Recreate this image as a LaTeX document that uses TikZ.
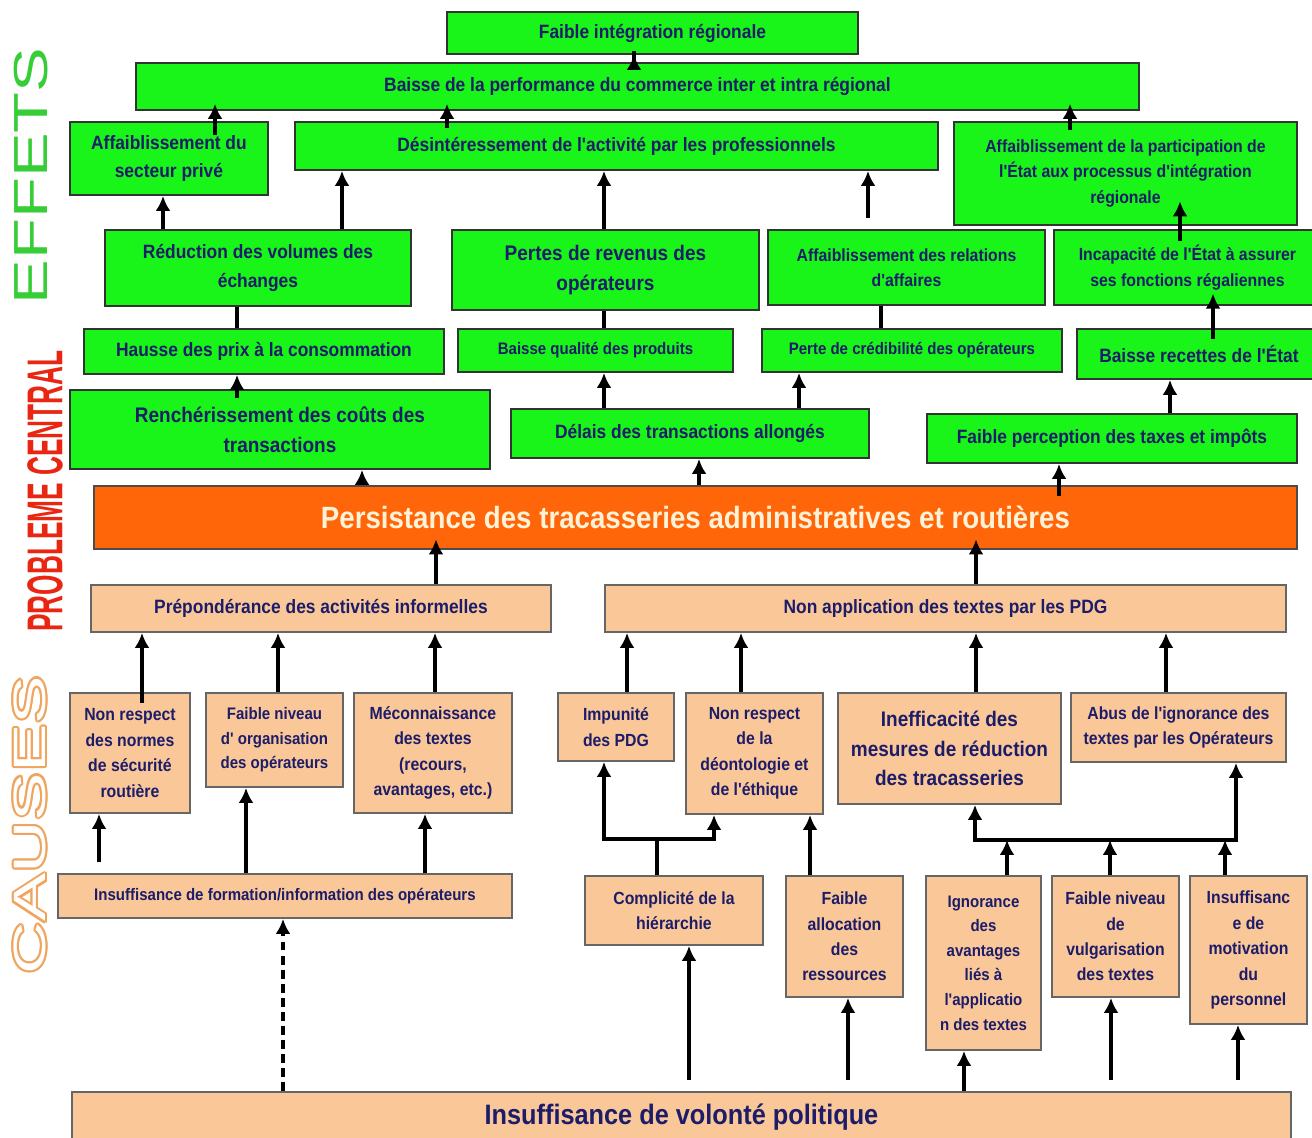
\documentclass[tikz,border=0pt]{standalone}
\usepackage{fontspec}
\setmainfont{Liberation Sans}
\newfontfamily\boxfont[FakeStretch=0.9]{Liberation Sans}
\usetikzlibrary{arrows.meta}
\definecolor{effgreen}{RGB}{25,245,25}
\definecolor{caustan}{RGB}{250,200,152}
\definecolor{probor}{RGB}{255,102,10}
\definecolor{navytxt}{RGB}{28,28,105}
\definecolor{creamtxt}{RGB}{255,242,215}
\definecolor{effetsgreen}{RGB}{55,205,55}
\definecolor{centralred}{RGB}{232,38,18}
\definecolor{causesor}{RGB}{240,165,95}
\tikzset{
box/.style={draw=black!80,line width=1.1pt,anchor=north west,align=center,inner sep=1pt,text=navytxt},
eff/.style={box,fill=effgreen},
cau/.style={box,fill=caustan,draw=black!60},
sz/.style 2 args={minimum width=#1*0.02cm,minimum height=#2*0.02cm},
t9/.style={font=\boxfont\bfseries\fontsize{9.5}{14}\selectfont},
t10/.style={font=\boxfont\bfseries\fontsize{10}{14.5}\selectfont},
t11/.style={font=\boxfont\bfseries\fontsize{11}{16}\selectfont},
t12/.style={font=\boxfont\bfseries\fontsize{12}{17}\selectfont},
side/.style={rotate=90,inner sep=0pt},
arr/.style={-{Latex[length=8.5pt,width=8.5pt]},line width=2.7pt},
ln/.style={line width=2.7pt},
}

\begin{document}
\begin{tikzpicture}[x=0.02cm,y=-0.02cm]
  \useasboundingbox (0,0) rectangle (1312,1137);

  % side labels
  \node[side,text=effetsgreen] (effets) at (31,176) {\resizebox{146pt}{19pt}{EFFETS}};
  \node[side,text=centralred] (central) at (45,491) {\resizebox{160pt}{20pt}{\bfseries PROBLEME CENTRAL}};
  \foreach \a in {0,30,...,330}
    \node[side,text=causesor,shift={(\a:2.2)}] (causes\a) at (30,825) {\resizebox{170pt}{18pt}{CAUSES}};
  \node[side,text=white] (causes) at (30,825) {\resizebox{170pt}{18pt}{CAUSES}};

  % effets
  \node[eff,t11,sz={411}{42}] (integ) at (446,11) {Faible intégration régionale};
  \node[eff,t11,sz={1003}{47}] (perf) at (135,62) {Baisse de la performance du commerce inter et intra régional};
  \node[eff,t11,sz={198}{73}] (secteur) at (69,121) {Affaiblissement du\\secteur privé};
  \node[eff,t11,sz={643}{48}] (desint) at (294,121) {Désintéressement de l'activité par les professionnels};
  \node[eff,t10,sz={343}{103}] (particip) at (953,121) {Affaiblissement de la participation de\\l'État aux processus d'intégration\\régionale};
  \node[eff,t11,sz={306}{76}] (reduc) at (104,229) {Réduction des volumes des\\échanges};
  \node[eff,t12,sz={307}{80}] (pertes) at (451,229) {Pertes de revenus des\\opérateurs};
  \node[eff,t10,sz={277}{75}] (relations) at (767,229) {Affaiblissement des relations\\d'affaires};
  \node[eff,t10,sz={267}{75}] (incap) at (1053,229) {Incapacité de l'État à assurer\\ses fonctions régaliennes};
  \node[eff,t11,sz={360}{45}] (hausse) at (83,328) {Hausse des prix à la consommation};
  \node[eff,t9,sz={275}{43}] (qualite) at (457,328) {Baisse qualité des produits};
  \node[eff,t9,sz={300}{43}] (credib) at (761,328) {Perte de crédibilité des opérateurs};
  \node[eff,t11,sz={244}{50}] (recettes) at (1076,328) {Baisse recettes de l'État};
  \node[eff,t12,sz={420}{79}] (rencher) at (69,389) {Renchérissement des coûts des\\transactions};
  \node[eff,t11,sz={358}{49}] (delais) at (510,408) {Délais des transactions allongés};
  \node[eff,t11,sz={370}{49}] (percep) at (926,413) {Faible perception des taxes et impôts};

  % probleme central
  \node[box,fill=probor,draw=black!70,sz={1203}{63},text=creamtxt,font=\boxfont\bfseries\fontsize{17.5}{20}\selectfont] (persist) at (93,485) {Persistance des tracasseries administratives et routières};

  % causes
  \node[cau,t11,sz={460}{47}] (prepond) at (90,584) {Prépondérance des activités informelles};
  \node[cau,t11,sz={681}{47}] (nonapp) at (604,584) {Non application des textes par les PDG};
  \node[cau,t10,sz={120}{120}] (normes) at (69,692) {Non respect\\des normes\\de sécurité\\routière};
  \node[cau,t9,sz={137}{94}] (orga) at (205,692) {Faible niveau\\d' organisation\\des opérateurs};
  \node[cau,t10,sz={158}{120}] (mecon) at (353,692) {Méconnaissance\\des textes\\(recours,\\avantages, etc.)};
  \node[cau,t10,sz={116}{68}] (impun) at (557,692) {Impunité\\des PDG};
  \node[cau,t10,sz={137}{121}] (deonto) at (685,692) {Non respect\\de la\\déontologie et\\de l'éthique};
  \node[cau,t12,sz={223}{111}] (ineff) at (837,692) {Inefficacité des\\mesures de réduction\\des tracasseries};
  \node[cau,t10,sz={215}{69}] (abus) at (1070,692) {Abus de l'ignorance des\\textes par les Opérateurs};
  \node[cau,t9,sz={454}{44}] (formation) at (57,873) {Insuffisance de formation/information des opérateurs};
  \node[cau,t10,sz={178}{69}] (complic) at (584,875) {Complicité de la\\hiérarchie};
  \node[cau,t10,sz={117}{121}] (alloc) at (785,875) {Faible\\allocation\\des\\ressources};
  \node[cau,t9,sz={115}{174}] (ignor) at (925,875) {Ignorance\\des\\avantages\\liés à\\l'applicatio\\n des textes};
  \node[cau,t10,sz={127}{121}] (vulgar) at (1051,875) {Faible niveau\\de\\vulgarisation\\des textes};
  \node[cau,t10,sz={117}{148}] (motiv) at (1189,875) {Insuffisanc\\e de\\motivation\\du\\personnel};
  \node[cau,sz={1219}{51},font=\boxfont\bfseries\fontsize{16}{18}\selectfont] (volonte) at (71,1091) {Insuffisance de volonté politique};

  \coordinate (cbar) at (657,839);
  \coordinate (ibar) at (1007,840);

  % effets links
  \draw[arr,shorten <=-6pt] (perf.north -| 634,0) -- (integ.south -| 634,0);
  \draw[arr,shorten <=-8pt,shorten >=-4pt] (secteur.north -| 215,0) -- (perf.south -| 215,0);
  \draw[arr,shorten <=-4pt,shorten >=-4pt] (desint.north -| 447,0) -- (perf.south -| 447,0);
  \draw[arr,shorten <=-5pt,shorten >=-4pt] (particip.north -| 1070,0) -- (perf.south -| 1070,0);
  \draw[arr] (reduc.north -| 163,0) -- (secteur.south -| 163,0);
  \draw[arr] (reduc.north -| 342,0) -- (desint.south -| 342,0);
  \draw[arr] (pertes.north -| 604,0) -- (desint.south -| 604,0);
  \draw[arr,shorten <=6pt] (relations.north -| 868,0) -- (desint.south -| 868,0);
  \draw[arr,shorten <=-7pt,shorten >=-14pt] (incap.north -| 1180,0) -- (particip.south -| 1180,0);
  \draw[ln] (hausse.north -| 237,0) -- (reduc.south -| 237,0);
  \draw[ln] (qualite.north -| 604,0) -- (pertes.south -| 604,0);
  \draw[ln] (credib.north -| 881,0) -- (relations.south -| 881,0);
  \draw[arr,shorten <=-6pt,shorten >=-7pt] (recettes.north -| 1213,0) -- (incap.south -| 1213,0);
  \draw[arr,shorten <=-5pt] (rencher.north -| 237,0) -- (hausse.south -| 237,0);
  \draw[arr] (delais.north -| 604,0) -- (qualite.south -| 604,0);
  \draw[arr] (delais.north -| 799,0) -- (credib.south -| 799,0);
  \draw[arr] (percep.north -| 1170,0) -- (recettes.south -| 1170,0);

  % probleme central links
  \draw[arr] (persist.north -| 362,0) -- (rencher.south -| 362,0);
  \draw[arr] (persist.north -| 699,0) -- (delais.south -| 699,0);
  \draw[arr,shorten <=-6pt] (persist.north -| 1059,0) -- (percep.south -| 1059,0);
  \draw[arr,shorten >=-6pt] (prepond.north -| 436,0) -- (persist.south -| 436,0);
  \draw[arr,shorten >=-6pt] (nonapp.north -| 976,0) -- (persist.south -| 976,0);

  % causes links
  \draw[arr,shorten <=-6pt] (normes.north -| 142,0) -- (prepond.south -| 142,0);
  \draw[arr] (orga.north -| 278,0) -- (prepond.south -| 278,0);
  \draw[arr] (mecon.north -| 435,0) -- (prepond.south -| 435,0);
  \draw[arr] (impun.north -| 627,0) -- (nonapp.south -| 627,0);
  \draw[arr] (deonto.north -| 741,0) -- (nonapp.south -| 741,0);
  \draw[arr] (ineff.north -| 976,0) -- (nonapp.south -| 976,0);
  \draw[arr] (abus.north -| 1166,0) -- (nonapp.south -| 1166,0);
  \draw[arr,shorten <=6pt] (formation.north -| 99,0) -- (normes.south -| 99,0);
  \draw[arr] (formation.north -| 246,0) -- (orga.south -| 246,0);
  \draw[arr] (formation.north -| 425,0) -- (mecon.south -| 425,0);
  \draw[arr,dash pattern=on 5pt off 3pt] (volonte.north -| 283,0) -- (formation.south -| 283,0);

  \draw[ln] (complic.north -| cbar) -- (cbar);
  \draw[arr] (cbar) -| (impun.south -| 604,0);
  \draw[arr] (cbar) -| (deonto.south -| 714,0);
  \draw[arr] (alloc.north -| 810,0) -- (deonto.south -| 810,0);

  \draw[arr] (ignor.north -| ibar) -- (ibar);
  \draw[arr] (vulgar.north -| 1110,0) -- (ibar -| 1110,0);
  \draw[arr] (motiv.north -| 1225,0) -- (ibar -| 1225,0);
  \draw[arr] (ibar) -| (ineff.south -| 975,0);
  \draw[arr] (ibar) -| (abus.south -| 1236,0);

  \draw[arr,shorten <=6pt] (volonte.north -| 689,0) -- (complic.south -| 689,0);
  \draw[arr,shorten <=6pt] (volonte.north -| 848,0) -- (alloc.south -| 848,0);
  \draw[arr] (volonte.north -| 964,0) -- (ignor.south -| 964,0);
  \draw[arr,shorten <=6pt] (volonte.north -| 1111,0) -- (vulgar.south -| 1111,0);
  \draw[arr,shorten <=6pt] (volonte.north -| 1238,0) -- (motiv.south -| 1238,0);
\end{tikzpicture}
\end{document}
